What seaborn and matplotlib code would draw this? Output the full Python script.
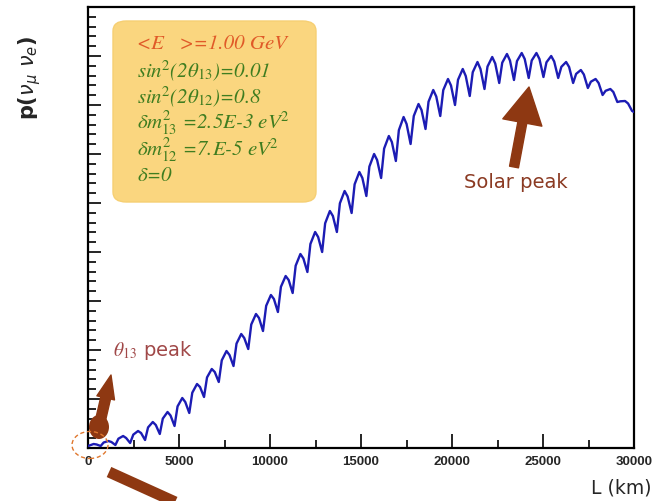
import matplotlib
matplotlib.use("Agg")
import matplotlib.pyplot as plt
import seaborn as sns
import pandas as pd
from matplotlib.ticker import MultipleLocator, AutoMinorLocator, NullFormatter
from matplotlib.patches import FancyBboxPatch, Ellipse
from matplotlib.lines import Line2D

# ---------------- data ----------------
start_L, start_p = 0, 0.002
end_L, end_p = 30000, 0.336

peak_L = [310, 1120, 1930, 2750, 3560, 4370, 5180, 5990, 6800, 7610, 8420, 9230,
          10050, 10860, 11670, 12480, 13290, 14100, 14910, 15720, 16530, 17340,
          18160, 18970, 19780, 20590, 21400, 22210, 23020, 23830, 24640, 25450,
          26270, 27080, 27890, 28700, 29510]
peak_p = [0.004, 0.007, 0.012, 0.017, 0.026, 0.036, 0.050, 0.064, 0.079, 0.097,
          0.114, 0.134, 0.153, 0.172, 0.194, 0.216, 0.237, 0.257, 0.276, 0.294,
          0.312, 0.331, 0.344, 0.358, 0.369, 0.379, 0.386, 0.391, 0.394, 0.395,
          0.395, 0.392, 0.386, 0.378, 0.369, 0.359, 0.347]

shoulder_L = [475, 1285, 2095, 2915, 3725, 4535, 5345, 6155, 6965, 7775, 8585, 9395,
              10215, 11025, 11835, 12645, 13455, 14265, 15075, 15885, 16695, 17505,
              18325, 19135, 19945, 20755, 21565, 22375, 23185, 23995, 24805, 25615,
              26435, 27245, 28055, 28865, 29675]
shoulder_p = [0.0035, 0.006, 0.010, 0.015, 0.023, 0.0325, 0.046, 0.061, 0.076, 0.093,
              0.110, 0.130, 0.149, 0.168, 0.1895, 0.211, 0.232, 0.2515, 0.270, 0.288,
              0.306, 0.324, 0.338, 0.3515, 0.3625, 0.372, 0.379, 0.3845, 0.3875, 0.389,
              0.389, 0.3865, 0.381, 0.3735, 0.365, 0.356, 0.3445]

trough_L = [695, 1505, 2315, 3135, 3945, 4755, 5565, 6375, 7185, 7995, 8805, 9615,
            10435, 11245, 12055, 12865, 13675, 14485, 15295, 16105, 16915, 17725,
            18545, 19355, 20165, 20975, 21785, 22595, 23405, 24215, 25025, 25835,
            26655, 27465, 28275, 29085, 29895]
trough_p = [0.002, 0.003, 0.005, 0.008, 0.014, 0.022, 0.035, 0.051, 0.066, 0.082,
            0.099, 0.117, 0.136, 0.155, 0.176, 0.196, 0.216, 0.235, 0.252, 0.270,
            0.287, 0.304, 0.319, 0.332, 0.343, 0.352, 0.359, 0.365, 0.368, 0.370,
            0.371, 0.370, 0.365, 0.360, 0.353, 0.346, 0.337]

# steep-rise corner just before every peak (peaks 2..37)
rise_L = [860, 1670, 2490, 3300, 4110, 4920, 5730, 6540, 7350, 8160, 8970, 9790,
          10600, 11410, 12220, 13030, 13840, 14650, 15460, 16270, 17080, 17900,
          18710, 19520, 20330, 21140, 21950, 22760, 23570, 24380, 25190, 26010,
          26820, 27630, 28440, 29250]
rise_p = [0.0055, 0.0093, 0.0134, 0.0206, 0.0294, 0.0416, 0.0553, 0.0706, 0.0877,
          0.1044, 0.1235, 0.1422, 0.1612, 0.1823, 0.204, 0.2247, 0.2447, 0.2637,
          0.2814, 0.2994, 0.3178, 0.332, 0.3463, 0.3579, 0.3682, 0.3758, 0.3814,
          0.3853, 0.3869, 0.3875, 0.3857, 0.3812, 0.3741, 0.3663, 0.3572, 0.3467]

xticks = [0, 5000, 10000, 15000, 20000, 25000, 30000]
xticklabels = ["0", "5000", "10000", "15000", "20000", "25000", "30000"]

box_lines = [
    "<E   >=1.00 GeV",
    r"sin$^{2}$(2$\theta_{13}$)=0.01",
    r"sin$^{2}$(2$\theta_{12}$)=0.8",
    r"$\delta m^{2}_{13}$ =2.5E-3 eV$^{2}$",
    r"$\delta m^{2}_{12}$ =7.E-5 eV$^{2}$",
    r"$\delta$=0",
]

# ---------------- assemble polyline (interleave read vertices) ----------------
Ls, ps = [start_L], [start_p]
for j in range(len(peak_L)):
    if j >= 1:
        Ls.append(rise_L[j - 1]); ps.append(rise_p[j - 1])
    Ls += [peak_L[j], shoulder_L[j], trough_L[j]]
    ps += [peak_p[j], shoulder_p[j], trough_p[j]]
Ls.append(end_L); ps.append(end_p)
df = pd.DataFrame({"L": Ls, "p": ps})

# ---------------- figure ----------------
sns.set_theme(style="white")
plt.rcParams["font.family"] = ["DejaVu Sans"]
plt.rcParams["mathtext.fontset"] = "stix"

W, H = 659, 502
fig = plt.figure(figsize=(W / 100, H / 100), dpi=100)
fig.patch.set_facecolor("white")
ax = fig.add_axes([88 / W, 1 - 449 / H, (634 - 88) / W, (449 - 8) / H])
ax.set_facecolor("white")

sns.lineplot(data=df, x="L", y="p", sort=False, estimator=None,
             color="#1c1cb4", lw=1.7, ax=ax, zorder=3)

ax.set_xlim(0, 30000)
ax.set_ylim(0, 0.441)
ax.set_xlabel("")
ax.set_ylabel("")
ax.set_xticks(xticks)
ax.set_xticklabels(xticklabels, fontfamily="Liberation Sans", fontsize=9.5,
                   fontweight="bold")
ax.xaxis.set_minor_locator(AutoMinorLocator(2))
ax.yaxis.set_major_locator(MultipleLocator(0.049))
ax.yaxis.set_minor_locator(AutoMinorLocator(5))
ax.yaxis.set_major_formatter(NullFormatter())
ax.tick_params(axis="both", which="both", direction="in", color="black",
               bottom=True, left=True, top=False, right=False)
ax.tick_params(axis="x", which="major", length=10, width=1.2, pad=5)
ax.tick_params(axis="x", which="minor", length=6, width=1.2)
ax.tick_params(axis="y", which="major", length=9.5, width=1.2)
ax.tick_params(axis="y", which="minor", length=5.5, width=1.2)
for s in ax.spines.values():
    s.set_color("black")
    s.set_linewidth(1.6)

def fx(x):
    return x / W

def fy(y):
    return 1 - y / H

# axis titles
fig.text(fx(621), fy(488), "L (km)", fontsize=13.5, ha="center", va="center")
fig.text(fx(30), fy(78), r"p($\nu_{\mu}$ $\nu_{e}$)", fontsize=15, rotation=90,
         ha="center", va="center", fontweight="bold", math_fontfamily="dejavusans")

# parameter box
box = FancyBboxPatch((fx(113), fy(203)), fx(316 - 113), (203 - 22) / H,
                     boxstyle="round,pad=0.0,rounding_size=0.02",
                     transform=fig.transFigure, facecolor="#fad67f",
                     edgecolor="#f6cf73", lw=1, zorder=1)
fig.add_artist(box)
ys = [44, 71, 97, 123, 150, 176]
colors = ["#e05a28"] + ["#3f7d20"] * 5
for txt, yy, c in zip(box_lines, ys, colors):
    fig.text(fx(137), fy(yy), txt, color=c, fontsize=15, family="STIXGeneral",
             style="italic", ha="left", va="center", zorder=5)

brown = "#8e3812"
# Solar peak annotation
fig.text(fx(516), fy(183), "Solar peak", color="#8b3a22", fontsize=14,
         ha="center", va="center")
ax.annotate("", xy=(529, H - 88), xycoords="figure pixels",
            xytext=(514, H - 168), textcoords="figure pixels",
            arrowprops=dict(arrowstyle="simple,head_length=2.0,head_width=2.2,tail_width=0.5",
                            color=brown, shrinkA=0, shrinkB=0, mutation_scale=13))

# theta13 peak annotation
fig.text(fx(113), fy(350), r"$\theta_{13}$ peak", color="#a04848", fontsize=14,
         ha="left", va="center")
ax.annotate("", xy=(111, H - 376), xycoords="figure pixels",
            xytext=(98, H - 432), textcoords="figure pixels",
            arrowprops=dict(arrowstyle="simple,head_length=1.3,head_width=1.0,tail_width=0.55",
                            color=brown, shrinkA=0, shrinkB=0, mutation_scale=13))
fig.add_artist(Ellipse((99 / 100, (H - 428) / 100), 0.2, 0.24,
                       transform=fig.dpi_scale_trans, facecolor=brown,
                       edgecolor="none", zorder=4))
fig.add_artist(Ellipse((90 / 100, (H - 446) / 100), 0.36, 0.27,
                       transform=fig.dpi_scale_trans, facecolor="none",
                       edgecolor="#e0782f", lw=1.0, ls=(0, (3, 2)), zorder=6))
fig.add_artist(Line2D([1.09, 1.95], [(H - 473) / 100, (H - 512) / 100],
                      transform=fig.dpi_scale_trans, color=brown, lw=8,
                      solid_capstyle="butt", zorder=4))

fig.savefig("out.png", dpi=100)
